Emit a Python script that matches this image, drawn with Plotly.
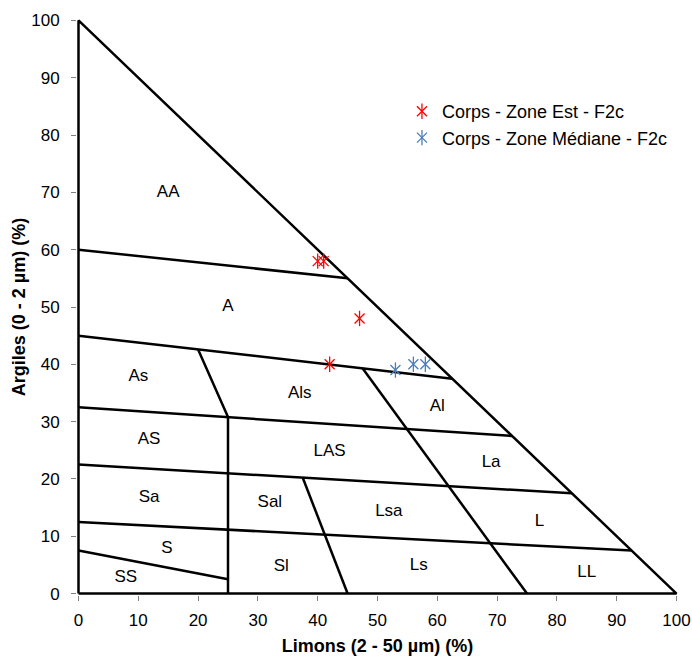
import plotly.graph_objects as go

# ---- data ----
# class boundaries of the texture triangle (Limons %, Argiles %), None separates segments
boundary_x = [0, 100, 0, 0, None,
              0, 45, None,
              0, 62.5, None,
              0, 72.5, None,
              0, 82.5, None,
              0, 92.5, None,
              0, 25, None,
              20, 25, 25, None,
              37.5, 45, None,
              47.5, 75]
boundary_y = [0, 0, 100, 0, None,
              60, 55, None,
              45, 37.5, None,
              32.5, 27.5, None,
              22.5, 17.5, None,
              12.5, 7.5, None,
              7.5, 2.5, None,
              42.6, 30.8, 0, None,
              20.2, 0, None,
              39.3, 0]

class_names = ["AA", "A", "As", "Als", "Al", "AS", "LAS", "La", "Sa", "Sal",
               "Lsa", "L", "S", "SS", "Sl", "Ls", "LL"]
class_x = [15, 25, 10, 37, 60, 11.8, 42, 69, 11.8, 32, 51.9, 77.1, 14.8, 7.9, 33.9, 56.9, 85]
class_y = [70, 50, 37.8, 34.8, 32.6, 26.8, 24.7, 22.9, 16.7, 15.8, 14.2, 12.6, 7.8, 2.7, 4.7, 4.8, 3.7]

est_name = "Corps - Zone Est - F2c"
est_limons = [40, 41, 47, 42]
est_argiles = [58, 58, 48, 40]

med_name = "Corps - Zone Médiane - F2c"
med_limons = [53, 56, 58]
med_argiles = [39, 40, 40]

tick_vals = [0, 10, 20, 30, 40, 50, 60, 70, 80, 90, 100]

FONT = "Liberation Sans, Arial, sans-serif"
RED = "#FF0000"
BLUE = "#4A7EBB"

fig = go.Figure()

fig.add_trace(go.Scatter(x=boundary_x, y=boundary_y, mode="lines",
                         line=dict(color="black", width=2.5),
                         showlegend=False, hoverinfo="skip"))

fig.add_trace(go.Scatter(x=class_x, y=class_y, mode="text", text=class_names,
                         textposition="middle center",
                         textfont=dict(family=FONT, size=17, color="black"),
                         showlegend=False, hoverinfo="skip"))

for name, xs, ys, col in [(est_name, est_limons, est_argiles, RED),
                          (med_name, med_limons, med_argiles, BLUE)]:
    fig.add_trace(go.Scatter(x=xs, y=ys, mode="markers", name=name,
                             marker=dict(symbol="x-thin-open", size=10, color=col,
                                         line=dict(color=col, width=1.3)),
                             legend="legend"))
    fig.add_trace(go.Scatter(x=xs, y=ys, mode="markers", name="",
                             marker=dict(symbol="line-ns-open", size=11, color=col,
                                         line=dict(color=col, width=1.3)),
                             legend="legend2", hoverinfo="skip"))

axis_common = dict(
    tickvals=tick_vals,
    ticks="outside", ticklen=5, tickwidth=1, tickcolor="#808080",
    showgrid=False, zeroline=False, showline=False,
    tickfont=dict(family=FONT, size=17, color="black"),
    range=[-0.25, 100.25], fixedrange=True, automargin=False,
)

legend_common = dict(
    x=0.5407, y=0.8715, xanchor="left", yanchor="top",
    bgcolor="rgba(0,0,0,0)", borderwidth=0,
    font=dict(family=FONT, size=18, color="black"),
    itemsizing="trace",
)

fig.update_layout(
    width=692, height=656,
    margin=dict(l=77, r=14, t=19, b=61),
    paper_bgcolor="white", plot_bgcolor="white",
    xaxis=dict(**axis_common, ticklabelstandoff=5,
               title=dict(text="<b>Limons (2 - 50 µm) (%)</b>", standoff=11,
                          font=dict(family=FONT, size=18, color="black"))),
    yaxis=dict(**axis_common, ticklabelstandoff=8,
               title=dict(text="<b>Argiles (0 - 2 µm) (%)</b>", standoff=0,
                          font=dict(family=FONT, size=18, color="black"))),
    legend=legend_common,
    legend2=legend_common,
)

fig.write_html("out.html")
